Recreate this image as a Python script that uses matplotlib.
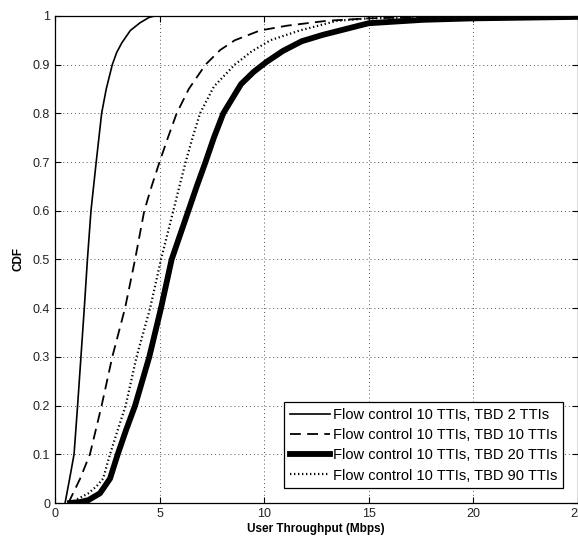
import matplotlib
matplotlib.use("Agg")
import matplotlib.pyplot as plt

plt.rcParams['font.family'] = ['Liberation Sans', 'DejaVu Sans']

# CDF curves (x in Mbps, y = CDF)
x_tbd2 = [0.48, 0.7, 0.91, 1.08, 1.24, 1.40, 1.55, 1.72, 1.97, 2.23, 2.45, 2.74, 2.95, 3.2, 3.6, 4.07, 4.5, 4.78, 25]
y_tbd2 = [0, 0.05, 0.1, 0.2, 0.3, 0.4, 0.5, 0.6, 0.7, 0.8, 0.85, 0.9, 0.925, 0.945, 0.97, 0.986, 0.997, 1.0, 1.0]

x_tbd10 = [0.64, 1.2, 1.67, 2.23, 2.74, 3.35, 3.83, 4.27, 4.62, 5.0, 5.4, 5.82, 6.4, 7.2, 7.9, 8.6, 9.8, 11.1, 13, 15, 18, 25]
y_tbd10 = [0, 0.05, 0.1, 0.2, 0.3, 0.4, 0.5, 0.6, 0.65, 0.7, 0.75, 0.8, 0.85, 0.9, 0.93, 0.95, 0.97, 0.98, 0.99, 0.995, 0.998, 1.0]

x_tbd20 = [0.72, 1.2, 1.6, 2.15, 2.63, 3.0, 3.4, 3.83, 4.51, 5.07, 5.58, 6.38, 6.78, 7.2, 7.6, 8.05, 8.9, 9.5, 10.1, 10.9, 11.8, 12.8, 15, 17.6, 20, 25]
y_tbd20 = [0, 0.002, 0.006, 0.02, 0.05, 0.1, 0.15, 0.2, 0.3, 0.4, 0.5, 0.6, 0.65, 0.7, 0.75, 0.8, 0.86, 0.885, 0.905, 0.928, 0.948, 0.961, 0.985, 0.992, 0.995, 0.998]

x_tbd90 = [0.72, 1.6, 2.0, 2.3, 2.63, 3.0, 3.38, 3.9, 4.55, 5.07, 5.66, 5.95, 6.25, 6.58, 6.94, 7.6, 8.6, 9.4, 10.3, 11.7, 13.5, 15, 18, 25]
y_tbd90 = [0, 0.02, 0.035, 0.05, 0.1, 0.15, 0.2, 0.3, 0.4, 0.5, 0.6, 0.65, 0.7, 0.75, 0.8, 0.855, 0.9, 0.927, 0.95, 0.97, 0.99, 0.995, 0.998, 1.0]

labels = ["Flow control 10 TTIs, TBD 2 TTIs",
          "Flow control 10 TTIs, TBD 10 TTIs",
          "Flow control 10 TTIs, TBD 20 TTIs",
          "Flow control 10 TTIs, TBD 90 TTIs"]

fig = plt.figure(figsize=(5.78, 5.40), dpi=100)
ax = fig.add_axes([0.0952, 0.0685, 0.904, 0.902])

ax.plot(x_tbd2, y_tbd2, color='black', lw=1.2, linestyle='-', label=labels[0])
ax.plot(x_tbd10, y_tbd10, color='black', lw=1.3, linestyle=(0, (6, 3.5)), label=labels[1])
ax.plot(x_tbd20, y_tbd20, color='black', lw=4.2, linestyle='-', label=labels[2])
ax.plot(x_tbd90, y_tbd90, color='black', lw=1.6, linestyle=(0, (0.6, 1.2)), label=labels[3])

ax.set_xlim(0, 25)
ax.set_ylim(0, 1)
ax.set_xticks([0, 5, 10, 15, 20, 25])
ax.set_yticks([i / 10 for i in range(11)])
ax.set_yticklabels(['0', '0.1', '0.2', '0.3', '0.4', '0.5', '0.6', '0.7', '0.8', '0.9', '1'])
ax.tick_params(direction='in', length=4, width=0.8, labelsize=9, top=True, right=True,
               colors='black', labelcolor='#222222')
ax.grid(True, color='#555555', linestyle=(0, (1, 3)), linewidth=0.7)
for s in ax.spines.values():
    s.set_linewidth(0.9)

ax.set_xlabel("User Throughput (Mbps)", fontsize=8.5, fontweight='bold', labelpad=2)
ax.set_ylabel("CDF", fontsize=8.5, fontweight='bold', labelpad=6)

leg = ax.legend(loc='lower right', fontsize=10.5, handlelength=2.75, handletextpad=0.2,
                borderpad=0.4, labelspacing=0.42, fancybox=False, framealpha=1,
                edgecolor='black', borderaxespad=1.0)
leg.get_frame().set_linewidth(0.9)

fig.savefig("out.png", dpi=100)
